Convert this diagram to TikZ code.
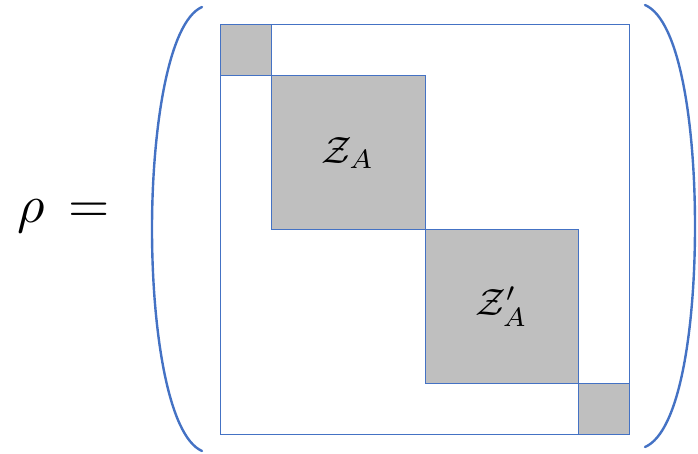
\documentclass[tikz,border=0pt]{standalone}
\usepackage{xcolor}
\usepackage{tikz}
\usetikzlibrary{positioning}
\definecolor{edgeblue}{HTML}{4472C4}
\definecolor{blockgray}{HTML}{BFBFBF}

\begin{document}
\begin{tikzpicture}[x=1pt, y=-1pt,
  block/.style={draw=edgeblue, fill=blockgray, line width=1pt, inner sep=0pt, outer sep=0pt, minimum size=#1},
  paren/.style={draw=edgeblue, line width=2.4pt, line cap=round}]
  \useasboundingbox (0,0) rectangle (698,454);

  % matrix frame
  \node[draw=edgeblue, line width=1pt, inner sep=0pt, outer sep=0pt, minimum size=409pt] (frame) at (424.5,229.5) {};

  % diagonal blocks
  \node[block=51pt, anchor=north west] (topblk) at (frame.north west) {};
  \node[block=154pt, below right=0pt of topblk] (zA) {\scalebox{3.8}{$\mathcal{Z}_A$}};
  \node[block=153pt, below right=0pt of zA] (zAp) {\scalebox{3.8}{$\mathcal{Z}'_A$}};
  \node[block=51pt, below right=0pt of zAp] (botblk) {};

  % brackets
  \coordinate (ltop) at (202,7);
  \coordinate (lbot) at (202,451);
  \coordinate (rtop) at (645,5);
  \coordinate (rbot) at (645,447);
  \draw[paren] (ltop) .. controls (168,22) and (152,130) .. (152,229)
    .. controls (152,330) and (168,436) .. (lbot);
  \draw[paren] (rtop) .. controls (680,20) and (695,125) .. (695,226)
    .. controls (695,328) and (680,432) .. (rbot);

  \node (lhs) at (64,216) {\scalebox{5.3}{$\rho\,=$}};
\end{tikzpicture}
\end{document}
